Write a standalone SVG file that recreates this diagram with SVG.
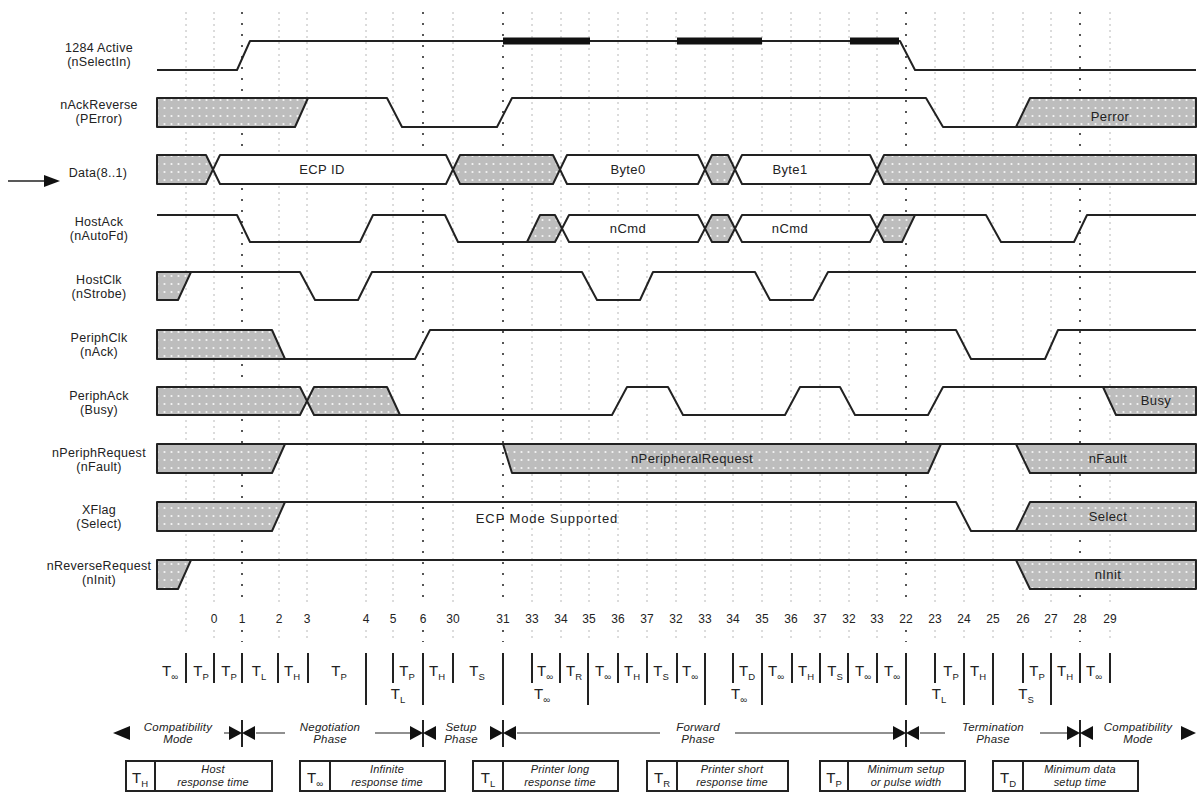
<svg xmlns="http://www.w3.org/2000/svg" width="1198" height="792" viewBox="0 0 1198 792">
<defs>
<pattern id="dots" width="7" height="8" patternUnits="userSpaceOnUse">
<rect width="7" height="8" fill="#bdbdbd"/>
<circle cx="3.5" cy="4" r="1.1" fill="#f4f4f4"/>
</pattern>
</defs>
<style>
text{font-family:"Liberation Sans","DejaVu Sans",sans-serif;fill:#222}
.lbl{font-size:12.5px;text-anchor:middle;letter-spacing:0.3px}
.num{font-size:12px;text-anchor:middle}
.in{font-size:13px;text-anchor:middle;letter-spacing:0.4px}
.t{font-size:15px;text-anchor:middle}
.sub{font-size:9.5px}
.ph{font-size:11.5px;font-style:italic;text-anchor:middle;letter-spacing:0.2px}
.ds{font-size:11px;font-style:italic;text-anchor:middle;letter-spacing:0.2px}
.sig{fill:none;stroke:#222;stroke-width:2;stroke-linejoin:round}
.sh{fill:url(#dots);stroke:#222;stroke-width:2;stroke-linejoin:round}
.bus{fill:#fff;stroke:#222;stroke-width:2;stroke-linejoin:round}
.thick{stroke:#111;stroke-width:7}
.g{stroke:#b8b8b8;stroke-width:1;stroke-dasharray:2 4}
.gh{stroke:#444;stroke-width:1.8;stroke-dasharray:2 9}
.bar{stroke:#222;stroke-width:2}
.ln{stroke:#222;stroke-width:1.2;fill:none}
.ah{fill:#111}
.box{fill:#fff;stroke:#222;stroke-width:2}
</style>
<rect width="1198" height="792" fill="#fff"/>

<g id="grid">
<path class="g" d="M186,12V632M214,12V605M279,12V605M307,12V605M366,12V605M393,12V605M453,12V605M532,12V605M561,12V605M589,12V605M618,12V605M647,12V605M676,12V605M705,12V605M733,12V605M762,12V605M791,12V605M820,12V605M849,12V605M877,12V605M935,12V605M964,12V605M993,12V605M1023,12V605M1051,12V605M1110,12V605"/>
<path class="g" d="M214,630V640M279,630V640M307,630V640M366,630V640M393,630V640M453,630V640M532,630V640M561,630V640M589,630V640M618,630V640M647,630V640M676,630V640M705,630V640M733,630V640M762,630V640M791,630V640M820,630V640M849,630V640M877,630V640M935,630V640M964,630V640M993,630V640M1023,630V640M1051,630V640M1110,630V640"/>
<path class="gh" d="M242,12V605M423,12V605M503,12V605M906,12V605M1080,12V605M242,630V642M423,630V642M503,630V642M906,630V642M1080,630V642"/>
</g>

<g id="labels">
<text class="lbl" x="99" y="52">1284 Active</text><text class="lbl" x="99" y="66">(nSelectIn)</text>
<text class="lbl" x="99" y="109">nAckReverse</text><text class="lbl" x="99" y="123">(PError)</text>
<text class="lbl" x="98" y="177">Data(8..1)</text>
<text class="lbl" x="99" y="226">HostAck</text><text class="lbl" x="99" y="240">(nAutoFd)</text>
<text class="lbl" x="99" y="284">HostClk</text><text class="lbl" x="99" y="298">(nStrobe)</text>
<text class="lbl" x="99" y="342">PeriphClk</text><text class="lbl" x="99" y="356">(nAck)</text>
<text class="lbl" x="99" y="400">PeriphAck</text><text class="lbl" x="99" y="414">(Busy)</text>
<text class="lbl" x="99" y="457">nPeriphRequest</text><text class="lbl" x="99" y="471">(nFault)</text>
<text class="lbl" x="99" y="514">XFlag</text><text class="lbl" x="99" y="528">(Select)</text>
<text class="lbl" x="99" y="570">nReverseRequest</text><text class="lbl" x="99" y="584">(nInit)</text>
</g>

<g id="connectors">
<line class="ln" x1="8" y1="181" x2="46" y2="181" style="stroke-width:1.5"/>
<polygon class="ah" points="44,175 60,181 44,187"/>
</g>

<g id="sig-1284Active">
<path class="sig" d="M157,70H237L250,41H900L915,70H1196"/>
<path class="thick" d="M503,41H590M677,41H762M850,41H899"/>
</g>

<g id="sig-nAckReverse">
<polygon class="sh" points="157,98 308,98 295,127 157,127"/>
<path class="sig" d="M308,98H387L402,127H497L512,98H926L943,127H1016"/>
<polygon class="sh" points="1016,127 1030,98 1196,98 1196,127"/>
<text class="in" x="1110" y="121">Perror</text>
</g>

<g id="sig-Data">
<polygon class="sh" points="157,155 206,155 213,169.5 206,184 157,184"/>
<polygon class="bus" points="213,169.5 220,155 446,155 453,169.5 446,184 220,184"/>
<polygon class="sh" points="453,169.5 460,155 553,155 560,169.5 553,184 460,184"/>
<polygon class="bus" points="560,169.5 567,155 698,155 705,169.5 698,184 567,184"/>
<polygon class="sh" points="705,169.5 712,155 728,155 735,169.5 728,184 712,184"/>
<polygon class="bus" points="735,169.5 742,155 870,155 877,169.5 870,184 742,184"/>
<polygon class="sh" points="877,169.5 884,155 1196,155 1196,184 884,184"/>
<text class="in" x="322" y="174">ECP ID</text>
<text class="in" x="628" y="174">Byte0</text>
<text class="in" x="790" y="174">Byte1</text>
</g>

<g id="sig-HostAck">
<path class="sig" d="M157,215H237L250,242H360L373,215H445L458,242H527"/>
<polygon class="sh" points="527,242 540,215 555,215 562,228.5 555,242"/>
<polygon class="bus" points="562,228.5 569,215 698,215 705,228.5 698,242 569,242"/>
<polygon class="sh" points="705,228.5 712,215 728,215 735,228.5 728,242 712,242"/>
<polygon class="bus" points="735,228.5 742,215 870,215 877,228.5 870,242 742,242"/>
<polygon class="sh" points="877,228.5 884,215 915,215 902,242 884,242"/>
<path class="sig" d="M915,215H986L1001,242H1074L1087,215H1196"/>
<text class="in" x="628" y="233">nCmd</text>
<text class="in" x="790" y="233">nCmd</text>
</g>

<g id="sig-HostClk">
<polygon class="sh" points="157,272 191,272 178,300 157,300"/>
<path class="sig" d="M191,272H300L315,300H358L372,272H582L597,300H640L653,272H755L770,300H813L828,272H1196"/>
</g>

<g id="sig-PeriphClk">
<polygon class="sh" points="157,330 272,330 285,359 157,359"/>
<path class="sig" d="M285,359H415L430,330H956L971,359H1045L1058,330H1196"/>
</g>

<g id="sig-PeriphAck">
<polygon class="sh" points="157,387 300,387 307,401 300,415 157,415"/>
<polygon class="sh" points="307,401 314,387 387,387 400,415 314,415"/>
<path class="sig" d="M400,415H612L627,387H668L683,415H785L800,387H840L855,415H928L943,387H1196"/>
<polygon class="sh" points="1103,387 1196,387 1196,415 1116,415"/>
<text class="in" x="1156" y="405">Busy</text>
</g>

<g id="sig-nPeriphRequest">
<polygon class="sh" points="157,444 285,444 272,473 157,473"/>
<polygon class="sh" points="503,444 941,444 928,473 512,473"/>
<polygon class="sh" points="1016,444 1196,444 1196,473 1030,473"/>
<path class="sig" d="M285,444H1196"/>
<text class="in" x="692" y="463">nPeripheralRequest</text>
<text class="in" x="1108" y="463">nFault</text>
</g>

<g id="sig-XFlag">
<polygon class="sh" points="157,502 285,502 272,531 157,531"/>
<path class="sig" d="M285,502H956L971,531H1016"/>
<polygon class="sh" points="1016,531 1030,502 1196,502 1196,531"/>
<text class="in" x="547" y="523" style="letter-spacing:0.9px">ECP Mode  Supported</text>
<text class="in" x="1108" y="521">Select</text>
</g>

<g id="sig-nReverseRequest">
<polygon class="sh" points="157,560 191,560 178,589 157,589"/>
<path class="sig" d="M191,560H1196"/>
<polygon class="sh" points="1016,560 1196,560 1196,589 1030,589"/>
<text class="in" x="1108" y="579">nInit</text>
</g>

<g id="events">
<text class="num" x="214" y="623">0</text><text class="num" x="242" y="623">1</text><text class="num" x="279" y="623">2</text><text class="num" x="307" y="623">3</text>
<text class="num" x="366" y="623">4</text><text class="num" x="393" y="623">5</text><text class="num" x="423" y="623">6</text><text class="num" x="453" y="623">30</text>
<text class="num" x="503" y="623">31</text><text class="num" x="532" y="623">33</text><text class="num" x="561" y="623">34</text><text class="num" x="589" y="623">35</text>
<text class="num" x="618" y="623">36</text><text class="num" x="647" y="623">37</text><text class="num" x="676" y="623">32</text><text class="num" x="705" y="623">33</text>
<text class="num" x="733" y="623">34</text><text class="num" x="762" y="623">35</text><text class="num" x="791" y="623">36</text><text class="num" x="820" y="623">37</text>
<text class="num" x="849" y="623">32</text><text class="num" x="877" y="623">33</text><text class="num" x="906" y="623">22</text><text class="num" x="935" y="623">23</text>
<text class="num" x="964" y="623">24</text><text class="num" x="993" y="623">25</text><text class="num" x="1023" y="623">26</text><text class="num" x="1051" y="623">27</text>
<text class="num" x="1080" y="623">28</text><text class="num" x="1110" y="623">29</text>
</g>

<g id="timing">
<path class="bar" d="M186,653V683M214,653V683M242,653V683M278,653V683M308,653V683M366,653V705M393,653V683M423,653V705M453,653V683M503,653V705M532,653V683M560,653V683M588,653V705M618,653V683M647,653V683M677,653V683M705,653V705M733,653V683M762,653V705M792,653V683M820,653V683M848,653V683M877,653V683M906,653V705M935,653V683M964,653V705M993,653V705M1023,653V683M1051,653V705M1080,653V683M1110,653V683"/>
<text class="t" x="170" y="676">T<tspan class="sub" dy="4">∞</tspan></text>
<text class="t" x="201" y="676">T<tspan class="sub" dy="4">P</tspan></text>
<text class="t" x="229" y="676">T<tspan class="sub" dy="4">P</tspan></text>
<text class="t" x="259" y="676">T<tspan class="sub" dy="4">L</tspan></text>
<text class="t" x="292" y="676">T<tspan class="sub" dy="4">H</tspan></text>
<text class="t" x="339" y="676">T<tspan class="sub" dy="4">P</tspan></text>
<text class="t" x="398" y="699">T<tspan class="sub" dy="4">L</tspan></text>
<text class="t" x="407" y="676">T<tspan class="sub" dy="4">P</tspan></text>
<text class="t" x="437" y="676">T<tspan class="sub" dy="4">H</tspan></text>
<text class="t" x="477" y="676">T<tspan class="sub" dy="4">S</tspan></text>
<text class="t" x="545" y="676">T<tspan class="sub" dy="4">∞</tspan></text>
<text class="t" x="542" y="699">T<tspan class="sub" dy="4">∞</tspan></text>
<text class="t" x="574" y="676">T<tspan class="sub" dy="4">R</tspan></text>
<text class="t" x="603" y="676">T<tspan class="sub" dy="4">∞</tspan></text>
<text class="t" x="632" y="676">T<tspan class="sub" dy="4">H</tspan></text>
<text class="t" x="661" y="676">T<tspan class="sub" dy="4">S</tspan></text>
<text class="t" x="690" y="676">T<tspan class="sub" dy="4">∞</tspan></text>
<text class="t" x="747" y="676">T<tspan class="sub" dy="4">D</tspan></text>
<text class="t" x="739" y="699">T<tspan class="sub" dy="4">∞</tspan></text>
<text class="t" x="776" y="676">T<tspan class="sub" dy="4">∞</tspan></text>
<text class="t" x="806" y="676">T<tspan class="sub" dy="4">H</tspan></text>
<text class="t" x="835" y="676">T<tspan class="sub" dy="4">S</tspan></text>
<text class="t" x="863" y="676">T<tspan class="sub" dy="4">∞</tspan></text>
<text class="t" x="892" y="676">T<tspan class="sub" dy="4">∞</tspan></text>
<text class="t" x="939" y="699">T<tspan class="sub" dy="4">L</tspan></text>
<text class="t" x="951" y="676">T<tspan class="sub" dy="4">P</tspan></text>
<text class="t" x="978" y="676">T<tspan class="sub" dy="4">H</tspan></text>
<text class="t" x="1026" y="699">T<tspan class="sub" dy="4">S</tspan></text>
<text class="t" x="1037" y="676">T<tspan class="sub" dy="4">P</tspan></text>
<text class="t" x="1065" y="676">T<tspan class="sub" dy="4">H</tspan></text>
<text class="t" x="1094" y="676">T<tspan class="sub" dy="4">∞</tspan></text>
</g>

<g id="phases">
<path class="ln" d="M224,733H232M256,733H285M375,733H412M517,733H660M735,733H895M920,733H945M1040,733H1069"/>
<path class="bar" d="M242,720V747M423,720V747M503,720V747M906,720V747M1080,720V747"/>
<polygon class="ah" points="113,733 130,726 130,740"/>
<polygon class="ah" points="229,726 242,733 229,740"/>
<polygon class="ah" points="255,726 242,733 255,740"/>
<polygon class="ah" points="410,726 423,733 410,740"/>
<polygon class="ah" points="436,726 423,733 436,740"/>
<polygon class="ah" points="490,726 503,733 490,740"/>
<polygon class="ah" points="516,726 503,733 516,740"/>
<polygon class="ah" points="893,726 906,733 893,740"/>
<polygon class="ah" points="919,726 906,733 919,740"/>
<polygon class="ah" points="1067,726 1080,733 1067,740"/>
<polygon class="ah" points="1093,726 1080,733 1093,740"/>
<polygon class="ah" points="1181,726 1196,733 1181,740"/>
<text class="ph" x="178" y="731">Compatibility</text><text class="ph" x="178" y="743">Mode</text>
<text class="ph" x="330" y="731">Negotiation</text><text class="ph" x="330" y="743">Phase</text>
<text class="ph" x="461" y="731">Setup</text><text class="ph" x="461" y="743">Phase</text>
<text class="ph" x="698" y="731">Forward</text><text class="ph" x="698" y="743">Phase</text>
<text class="ph" x="993" y="731">Termination</text><text class="ph" x="993" y="743">Phase</text>
<text class="ph" x="1138" y="731">Compatibility</text><text class="ph" x="1138" y="743">Mode</text>
</g>

<g id="legend-TH">
<rect class="box" x="126" y="761" width="146" height="30"/><line class="bar" x1="155" y1="761" x2="155" y2="791"/>
<text class="t" x="140" y="783">T<tspan class="sub" dy="4">H</tspan></text>
<text class="ds" x="213" y="773">Host</text><text class="ds" x="213" y="786">response time</text>
</g>
<g id="legend-Tinf">
<rect class="box" x="300" y="761" width="145" height="30"/><line class="bar" x1="330" y1="761" x2="330" y2="791"/>
<text class="t" x="315" y="783">T<tspan class="sub" dy="4">∞</tspan></text>
<text class="ds" x="387" y="773">Infinite</text><text class="ds" x="387" y="786">response time</text>
</g>
<g id="legend-TL">
<rect class="box" x="473" y="761" width="145" height="30"/><line class="bar" x1="503" y1="761" x2="503" y2="791"/>
<text class="t" x="488" y="783">T<tspan class="sub" dy="4">L</tspan></text>
<text class="ds" x="560" y="773">Printer long</text><text class="ds" x="560" y="786">response time</text>
</g>
<g id="legend-TR">
<rect class="box" x="647" y="761" width="141" height="30"/><line class="bar" x1="677" y1="761" x2="677" y2="791"/>
<text class="t" x="662" y="783">T<tspan class="sub" dy="4">R</tspan></text>
<text class="ds" x="732" y="773">Printer short</text><text class="ds" x="732" y="786">response time</text>
</g>
<g id="legend-TP">
<rect class="box" x="820" y="761" width="145" height="30"/><line class="bar" x1="848" y1="761" x2="848" y2="791"/>
<text class="t" x="834" y="783">T<tspan class="sub" dy="4">P</tspan></text>
<text class="ds" x="906" y="773">Minimum setup</text><text class="ds" x="906" y="786">or pulse width</text>
</g>
<g id="legend-TD">
<rect class="box" x="993" y="761" width="145" height="30"/><line class="bar" x1="1023" y1="761" x2="1023" y2="791"/>
<text class="t" x="1008" y="783">T<tspan class="sub" dy="4">D</tspan></text>
<text class="ds" x="1080" y="773">Minimum data</text><text class="ds" x="1080" y="786">setup time</text>
</g>
</svg>
